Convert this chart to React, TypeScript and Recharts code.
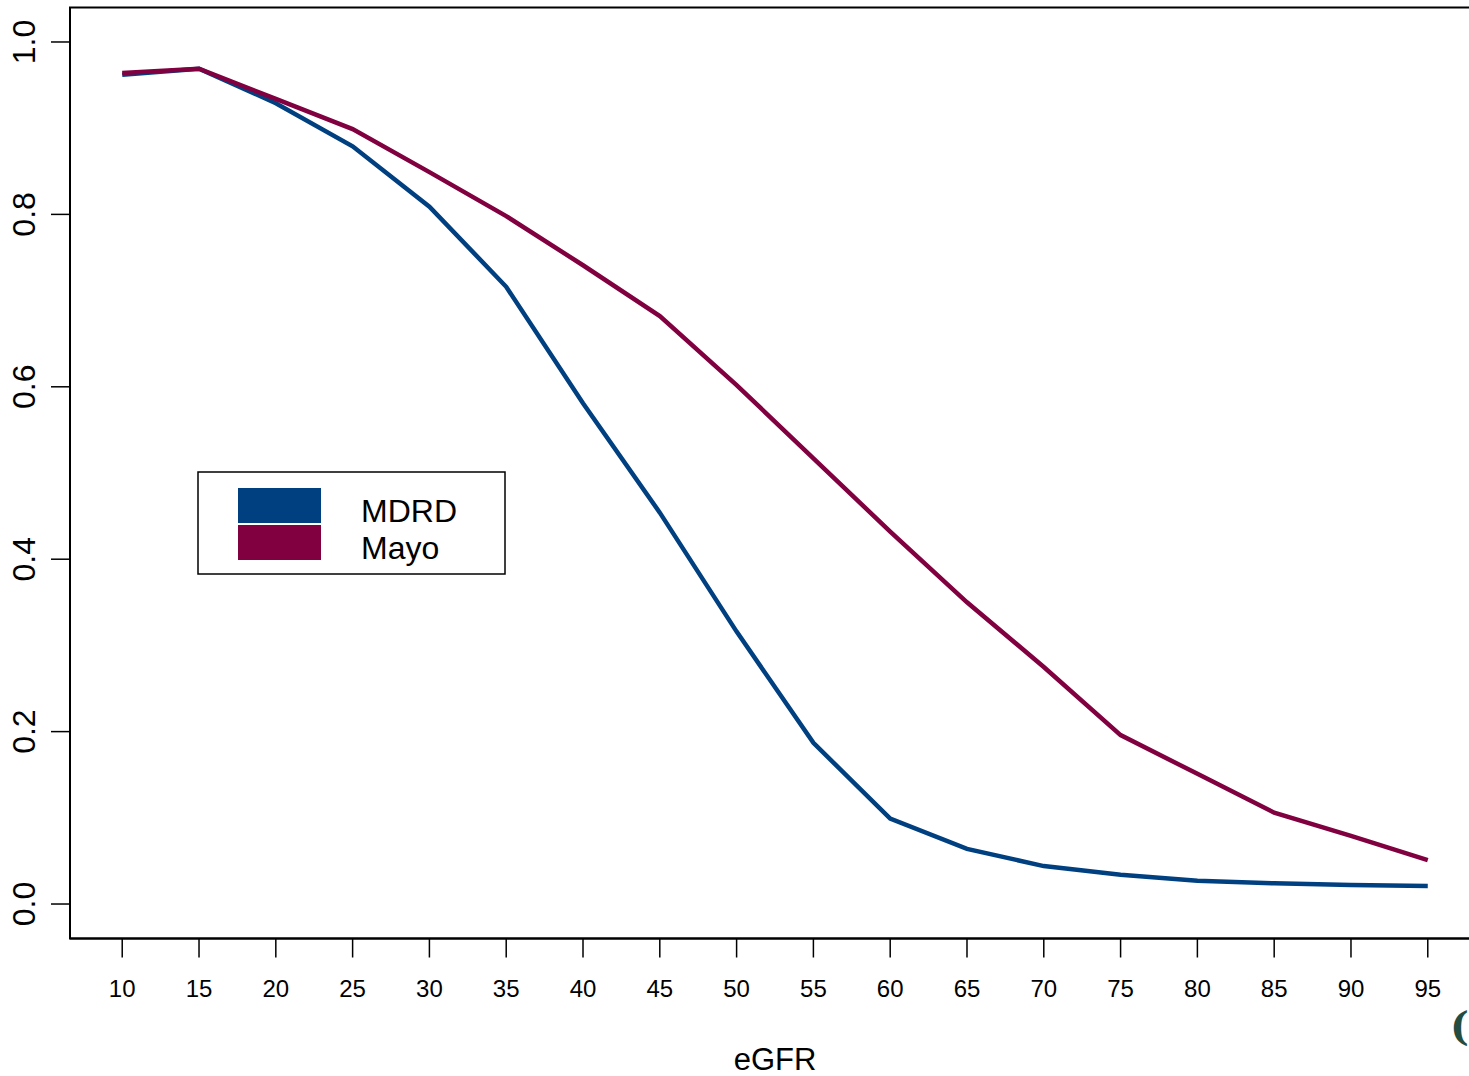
import { LineChart, Line, XAxis, YAxis, ReferenceArea } from "recharts";

const egfr = [10, 15, 20, 25, 30, 35, 40, 45, 50, 55, 60, 65, 70, 75, 80, 85, 90, 95];
const mdrd = [0.962, 0.969, 0.929, 0.879, 0.809, 0.716, 0.581, 0.454, 0.316, 0.187, 0.099, 0.064, 0.044, 0.034, 0.027, 0.024, 0.022, 0.021];
const mayo = [0.964, 0.969, 0.934, 0.899, 0.849, 0.798, 0.741, 0.682, 0.602, 0.517, 0.432, 0.35, 0.275, 0.196, 0.151, 0.106, 0.079, 0.051];
const yTicks = [0, 0.2, 0.4, 0.6, 0.8, 1.0];

const data = egfr.map((x, i) => ({ egfr: x, MDRD: mdrd[i], Mayo: mayo[i] }));

const BLUE = "#004080";
const MAROON = "#800040";
const series = [
  { name: "MDRD", color: BLUE },
  { name: "Mayo", color: MAROON },
];

// R pads the range by 4% each side
const xDomain = [10 - 85 * 0.04, 95 + 85 * 0.04];
const yDomain = [-0.04, 1.04];

const YTick = ({ x, y, payload }: any) => (
  <text
    x={x - 14}
    y={y}
    transform={`rotate(-90, ${x - 14}, ${y})`}
    textAnchor="middle"
    fontSize={32}
    fill="#000"
  >
    {payload.value.toFixed(1)}
  </text>
);

const XTick = ({ x, y, payload }: any) => (
  <text x={x} y={y} dy={37} textAnchor="middle" fontSize={24} fill="#000">
    {payload.value}
  </text>
);

// legend drawn like R's legend(fill=...) box
const LegendBox = () => (
  <svg
    width={310}
    height={105}
    style={{ position: "absolute", left: 197, top: 471, display: "block" }}
  >
    <rect x={1} y={1} width={307} height={102} fill="#fff" stroke="#000" strokeWidth={1.5} />
    {series.map((s, i) => (
      <g key={s.name}>
        <rect x={41} y={17 + i * 37} width={83} height={35} fill={s.color} />
        <text x={164} y={51 + i * 37} fontSize={32} fill="#000">
          {s.name}
        </text>
      </g>
    ))}
  </svg>
);

export default function App() {
  return (
    <div
      style={{
        position: "absolute",
        left: 0,
        top: 0,
        width: 1469,
        height: 1076,
        overflow: "hidden",
        background: "#fff",
        fontFamily: "'Liberation Sans', Arial, sans-serif",
      }}
    >
      <LineChart
        width={1490}
        height={1076}
        data={data}
        margin={{ top: 7.5, right: 10, bottom: 0, left: 0 }}
      >
        <XAxis
          dataKey="egfr"
          type="number"
          domain={xDomain}
          ticks={egfr}
          allowDataOverflow
          height={137.5}
          tickSize={19}
          tick={<XTick />}
          axisLine={{ stroke: "#000", strokeWidth: 2 }}
          tickLine={{ stroke: "#000", strokeWidth: 1.5 }}
          label={{ value: "eGFR", position: "insideBottom", offset: 6, fontSize: 31, fill: "#000" }}
        />
        <YAxis
          type="number"
          domain={yDomain}
          ticks={yTicks}
          allowDataOverflow
          width={70}
          tickSize={19}
          tick={<YTick />}
          axisLine={{ stroke: "#000", strokeWidth: 2 }}
          tickLine={{ stroke: "#000", strokeWidth: 1.5 }}
        />
        <ReferenceArea
          x1={xDomain[0]}
          x2={xDomain[1]}
          y1={yDomain[0]}
          y2={yDomain[1]}
          fill="none"
          stroke="#000"
          strokeWidth={2}
        />
        <Line
          type="linear"
          dataKey="MDRD"
          stroke={BLUE}
          strokeWidth={4.5}
          dot={false}
          isAnimationActive={false}
        />
        <Line
          type="linear"
          dataKey="Mayo"
          stroke={MAROON}
          strokeWidth={4.5}
          dot={false}
          isAnimationActive={false}
        />
      </LineChart>
      <LegendBox />
      <div
        style={{
          position: "absolute",
          left: 1450,
          top: 1006,
          fontFamily: "'DejaVu Serif', serif",
          fontSize: 40,
          fontWeight: "bold",
          color: "#234d40",
          lineHeight: 1,
        }}
      >
        (
      </div>
    </div>
  );
}
